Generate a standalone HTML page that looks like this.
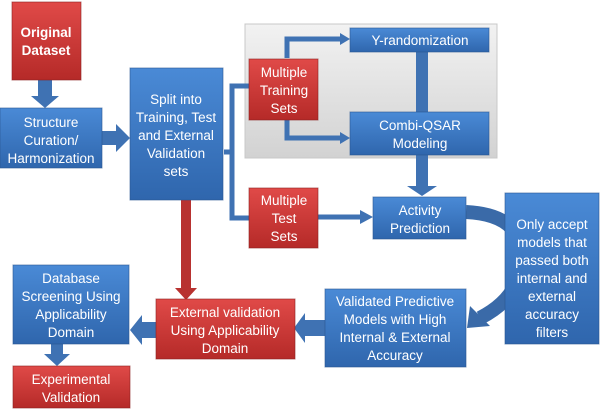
<!DOCTYPE html>
<html><head><style>
body{margin:0;background:#fff;}
svg text{font-family:"Liberation Sans",sans-serif;font-size:13.5px;fill:#fff;text-anchor:middle;}
</style></head><body>
<svg width="600" height="410" viewBox="0 0 600 410" xmlns="http://www.w3.org/2000/svg">
<defs>
<linearGradient id="b" x1="0" y1="0" x2="0" y2="1"><stop offset="0" stop-color="#4a8ad6"/><stop offset="1" stop-color="#2f66ad"/></linearGradient>
<linearGradient id="r" x1="0" y1="0" x2="0" y2="1"><stop offset="0" stop-color="#e04a48"/><stop offset="1" stop-color="#b52a28"/></linearGradient>
<linearGradient id="g" x1="0" y1="0" x2="0" y2="1"><stop offset="0" stop-color="#f2f2f2"/><stop offset="1" stop-color="#d2d2d2"/></linearGradient>
</defs>
<rect x="245" y="24" width="252" height="134" fill="url(#g)" stroke="#c8c8c8"/>
<g fill="none" stroke="#3f72b3" stroke-width="5">
<path d="M224 152 H232 V86 H250"/>
<path d="M232 150 V218 H250"/>
<path d="M287 58 V39 H340"/>
<path d="M287 120 V138 H340"/>
<path d="M318 217 H362"/>
</g>
<g fill="#3f72b3">
<polygon points="340,33 350,39 340,45"/>
<polygon points="340,132 350,138 340,144"/>
<polygon points="360,210 373,217 360,224"/>
<rect x="416" y="52" width="12" height="60"/>
<polygon points="416,155 428,155 428,186 437,186 422,196 407,186 416,186"/>
<polygon points="38,80 52,80 52,96 59,96 45,108 31,96 38,96"/>
<polygon points="102,131 116,131 116,124 130,138 116,152 116,145 102,145"/>
<polygon points="51,344 63,344 63,354 70,354 57,366 44,354 51,354"/>
<polygon points="325,320 305,320 305,313 294,328 305,343 305,336 325,336"/>
<polygon points="156,322 142,322 142,315 130,330 142,345 142,338 156,338"/>
</g>
<path d="M466 212 Q530 215 520 270 Q515 300 480 318" fill="none" stroke="#3a6aa8" stroke-width="14"/>
<polygon points="470,306 490,326 467,328" fill="#3a6aa8"/>
<rect x="181" y="200" width="10" height="90" fill="#b83230"/>
<polygon points="175,288 197,288 186,300" fill="#b83230"/>
<g stroke="#2a5590" stroke-opacity="0.6">
<rect x="12" y="2" width="69" height="78" fill="url(#r)" stroke="#8a2020"/>
<rect x="0" y="108" width="102" height="60" fill="url(#b)"/>
<rect x="130" y="68" width="93" height="132" fill="url(#b)"/>
<rect x="249" y="59" width="69" height="61" fill="url(#r)" stroke="#8a2020"/>
<rect x="350" y="28" width="139" height="24" fill="url(#b)"/>
<rect x="350" y="112" width="139" height="43" fill="url(#b)"/>
<rect x="249" y="188" width="69" height="60" fill="url(#r)" stroke="#8a2020"/>
<rect x="373" y="197" width="93" height="42" fill="url(#b)"/>
<rect x="505" y="193" width="94" height="151" fill="url(#b)"/>
<rect x="325" y="289" width="141" height="78" fill="url(#b)"/>
<rect x="156" y="299" width="139" height="60" fill="url(#r)" stroke="#8a2020"/>
<rect x="13" y="265" width="116" height="79" fill="url(#b)"/>
<rect x="13" y="366" width="117" height="42" fill="url(#r)" stroke="#8a2020"/>
</g>
<text x="46" y="37" font-weight="bold" font-size="14">Original</text><text x="46" y="55" font-weight="bold" font-size="14">Dataset</text>
<text x="51" y="127">Structure</text><text x="51" y="145">Curation/</text><text x="51" y="163">Harmonization</text>
<text x="176" y="104">Split into</text><text x="176" y="122">Training, Test</text><text x="176" y="140">and External</text><text x="176" y="158">Validation</text><text x="176" y="176">sets</text>
<text x="284" y="77">Multiple</text><text x="284" y="95">Training</text><text x="284" y="113">Sets</text>
<text x="420" y="45">Y-randomization</text>
<text x="420" y="130">Combi-QSAR</text><text x="420" y="148">Modeling</text>
<text x="284" y="205">Multiple</text><text x="284" y="223">Test</text><text x="284" y="241">Sets</text>
<text x="420" y="215">Activity</text><text x="420" y="233">Prediction</text>
<text x="552" y="229">Only accept</text><text x="552" y="247">models that</text><text x="552" y="265">passed both</text><text x="552" y="283">internal and</text><text x="552" y="301">external</text><text x="552" y="319">accuracy</text><text x="552" y="337">filters</text>
<text x="395" y="306">Validated Predictive</text><text x="395" y="324">Models with High</text><text x="395" y="342">Internal &amp; External</text><text x="395" y="360">Accuracy</text>
<text x="225" y="317">External validation</text><text x="225" y="335">Using Applicability</text><text x="225" y="353">Domain</text>
<text x="71" y="283">Database</text><text x="71" y="301">Screening Using</text><text x="71" y="319">Applicability</text><text x="71" y="337">Domain</text>
<text x="71" y="384">Experimental</text><text x="71" y="402">Validation</text>
</svg>
</body></html>
